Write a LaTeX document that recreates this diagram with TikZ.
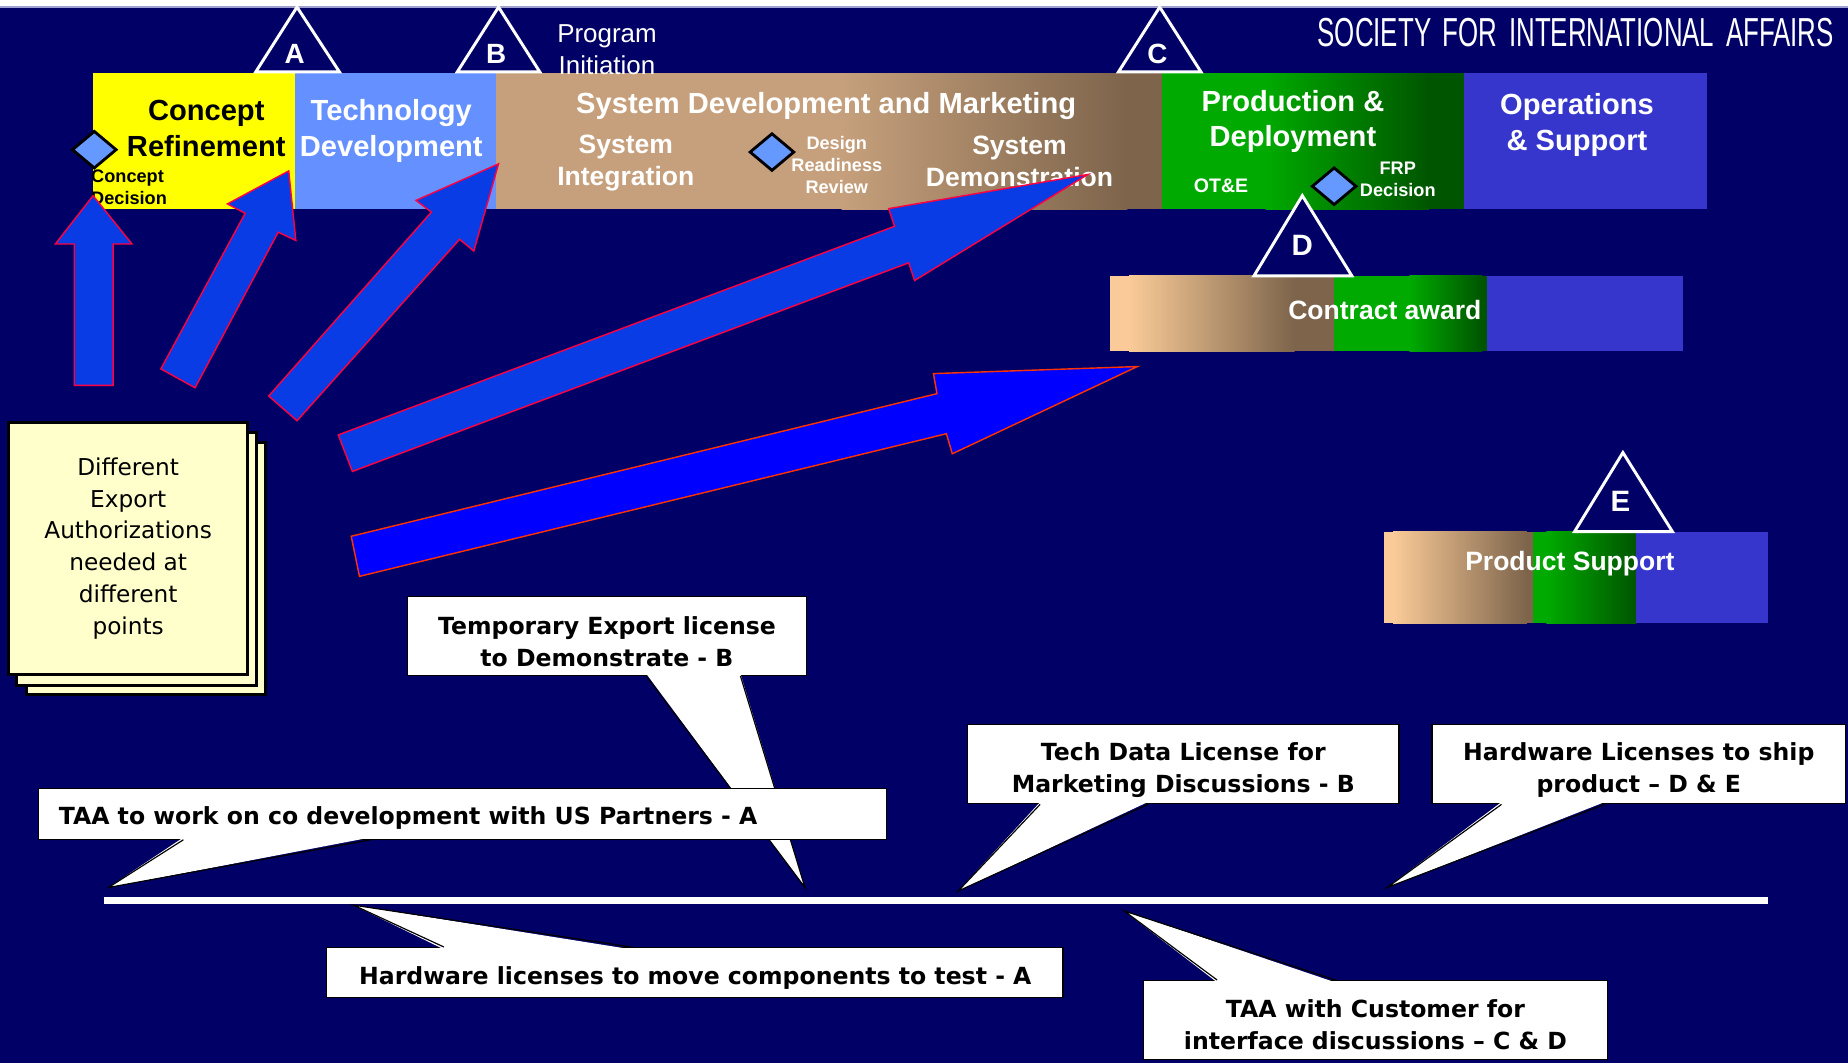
\documentclass[tikz,border=0pt]{standalone}
\usepackage{fontspec}
\usepackage{graphicx}
\setmainfont{Liberation Sans}
\newfontfamily\notefont{DejaVu Sans}
\usetikzlibrary{calc,shapes.geometric}

\newcommand{\setfs}[2]{\fontsize{#1}{#2}\selectfont}

\definecolor{navy}{RGB}{0,0,102}
\definecolor{topline}{RGB}{160,160,208}
\definecolor{conceptyellow}{RGB}{255,255,0}
\definecolor{techblue}{RGB}{100,145,255}
\definecolor{phasetan}{RGB}{198,160,124}
\definecolor{phasebrown}{RGB}{125,100,75}
\definecolor{peach}{RGB}{250,203,152}
\definecolor{brightgreen}{RGB}{0,170,0}
\definecolor{darkgreen}{RGB}{0,85,0}
\definecolor{opsblue}{RGB}{54,54,204}
\definecolor{arrowblue}{RGB}{10,60,230}
\definecolor{arrowred}{RGB}{255,0,64}
\definecolor{pureblue}{RGB}{0,0,255}
\definecolor{orangered}{RGB}{255,51,0}
\definecolor{notefill}{RGB}{255,255,204}
\definecolor{diamondblue}{RGB}{102,153,255}

\begin{document}
\begin{tikzpicture}[x=0.5pt,y=-0.5pt,
  phasetext/.style={text=white, font=\bfseries\setfs{12.35pt}{15pt}, align=center, inner sep=0pt},
  subtext/.style={text=white, font=\bfseries\setfs{11.25pt}{13.5pt}, align=center, inner sep=0pt},
  smalltext/.style={text=white, font=\bfseries\setfs{7.7pt}{9.3pt}, align=center, inner sep=0pt},
  programtext/.style={text=white, font=\setfs{11pt}{13.5pt}, align=center, inner sep=0pt},
  milestone/.style={draw=white, line width=1.25pt, fill=navy, line join=miter},
  milestonelabel/.style={text=white, font=\bfseries\setfs{11.8pt}{14pt}, inner sep=0pt},
  decision/.style={diamond, draw=black, line width=1.2pt, fill=diamondblue,
    minimum width=19pt, minimum height=16pt, inner sep=0pt},
  bigarrow/.style={fill=arrowblue, draw=arrowred, line width=0.6pt, line join=miter},
  sheet/.style={draw=black, line width=1.25pt, fill=notefill, minimum width=101.5pt,
    minimum height=107pt, inner sep=0pt, anchor=north west},
  calloutbox/.style={draw=black, line width=0.5pt, fill=white, inner sep=0pt},
  callouttext/.style={inner sep=0pt, font=\notefont\bfseries\setfs{10pt}{13.5pt}, align=center},
  tail/.style={fill=white},
  tailedge/.style={draw=black, line width=0.5pt, line join=miter},
  timeline/.style={draw=white, line width=3pt},
]
\useasboundingbox (0,0) rectangle (1568,902);

% background and top band
\fill[navy] (0,0) rectangle (1568,902);
\fill[white] (0,0) rectangle (1568,5.5);
\fill[topline] (0,5.5) rectangle (1568,6.8);

% main phase bar
\fill[conceptyellow] (79,62) rectangle (250.5,177.5);
\fill[techblue] (250,62) rectangle (421.5,177.5);
\fill[phasetan] (421,62) rectangle (714.5,177.5);
\shade[left color=phasetan, right color=phasebrown] (714,62) rectangle (956.5,177.5);
\fill[phasebrown] (956,62) rectangle (986.5,177.5);
\fill[brightgreen] (986,62) rectangle (1074.5,177.5);
\shade[left color=brightgreen, right color=darkgreen] (1074,62) rectangle (1212.5,177.5);
\fill[darkgreen] (1212,62) rectangle (1242.5,177.5);
\fill[opsblue] (1242,62) rectangle (1448,177.5);

% contract award bar
\fill[peach] (942,234) rectangle (958.5,298);
\shade[left color=peach, right color=phasebrown] (958,234) rectangle (1098.5,298);
\fill[phasebrown] (1098,234) rectangle (1132.5,298);
\fill[brightgreen] (1132,234) rectangle (1196.5,298);
\shade[left color=brightgreen, right color=darkgreen] (1196,234) rectangle (1257.5,298);
\fill[darkgreen] (1257,234) rectangle (1262.5,298);
\fill[opsblue] (1262,234) rectangle (1428,298);

% product support bar
\fill[peach] (1174,451) rectangle (1182.5,529);
\shade[left color=peach, right color=phasebrown] (1182,451) rectangle (1295.5,529);
\fill[phasebrown] (1295,451) rectangle (1301.5,529);
\fill[brightgreen] (1301,451) rectangle (1312.5,529);
\shade[left color=brightgreen, right color=darkgreen] (1312,451) rectangle (1388.5,529);
\fill[opsblue] (1388,451) rectangle (1500,529);

% milestones
\draw[milestone] (217,61) -- (252,6) -- (288,61) -- cycle;
\node[milestonelabel] (msA) at (250,46) {A};
\draw[milestone] (388,61) -- (423,6) -- (458,61) -- cycle;
\node[milestonelabel] (msB) at (421,46) {B};
\draw[milestone] (949,61) -- (984,6) -- (1019,61) -- cycle;
\node[milestonelabel] (msC) at (982,46) {C};
\draw[milestone] (1064,234) -- (1105,166) -- (1147,234) -- cycle;
\node[milestonelabel, font=\bfseries\setfs{12.5pt}{14pt}] (msD) at (1105,208) {D};
\draw[milestone] (1336,451) -- (1377,384) -- (1419,451) -- cycle;
\node[milestonelabel, font=\bfseries\setfs{12.5pt}{14pt}] (msE) at (1375,425) {E};

% phase labels
\node[phasetext, text=black] (tConcept) at (175,109) {Concept\\Refinement};
\node[phasetext] (tTech) at (332,111) {Technology\\Development};
\node[phasetext] (tSDM) at (701,90) {System Development and Marketing};
\node[subtext] (tSI) at (531,138) {System\\Integration};
\node[smalltext] (tDRR) at (710,140) {Design\\Readiness\\Review};
\node[subtext] (tSD) at (865,137) {System\\Demonstration};
\node[phasetext] (tPD) at (1097,103) {Production \&\\Deployment};
\node[smalltext, font=\bfseries\setfs{8.3pt}{10pt}] (tOTE) at (1036,158) {OT\&E};
\node[smalltext] (tFRP) at (1186,152) {FRP\\Decision};
\node[phasetext] (tOps) at (1338,106) {Operations\\\& Support};
\node[smalltext, text=black, anchor=west, align=left] (tCD) at (77,159) {Concept\\Decision};
\node[programtext] (tPI) at (515,42) {Program\\Initiation};
\node[subtext] (tCA) at (1175,263) {Contract award};
\node[subtext] (tPS) at (1332,478) {Product Support};

% decision points
\node[decision] (dCD) at (80,127) {};
\node[decision] (dDRR) at (655,129) {};
\node[decision] (dFRP) at (1132,158) {};

% organisation banner
\node[text=white, inner sep=0pt] (society) at (1337,28)
  {\resizebox{219pt}{12pt}{SOCIETY\hspace{0.45em}FOR\hspace{0.45em}INTERNATIONAL\hspace{0.45em}AFFAIRS}};

% stacked note sheets
\node[sheet] (sheet3) at (21,374) {};
\node[sheet] (sheet2) at (13,366) {};
\node[sheet, align=center, font=\notefont\setfs{9.85pt}{13.5pt}] (note) at (6,357)
  {Different\\Export\\Authorizations\\needed at\\different\\points};

% block arrows from the notes to the phases
\draw[bigarrow] (63,327) -- (96,327) -- (96,207) -- (112,207) -- (79,166) -- (47,207) -- (63,207) -- cycle;
\draw[bigarrow] (136.5,313) -- (208,181) -- (193,173) -- (245,145) -- (251,204) -- (236,197) -- (165.5,329) -- cycle;
\draw[bigarrow] (228,336) -- (366,180) -- (353,170) -- (423,139) -- (402,213) -- (390,203) -- (252,357) -- cycle;
\draw[bigarrow] (287,369) -- (759,192) -- (754,177) -- (923,148) -- (776,238) -- (771,223) -- (299,400) -- cycle;
\draw[bigarrow, fill=pureblue, draw=orangered] (298,455) -- (795,334) -- (792,317) -- (965,311) -- (808,385) -- (803,368) -- (305,489) -- cycle;

% timeline
\coordinate (tlL) at (88,764);
\coordinate (tlR) at (1500,764);
\draw[timeline] (tlL) -- (tlR);

% callout tips on the timeline
\coordinate (tip1) at (683,753);
\coordinate (tip2) at (92,753);
\coordinate (tip3) at (300,768);
\coordinate (tip4) at (813,756);
\coordinate (tip5) at (1177,753);
\coordinate (tip6) at (954,773);

% callout: temporary export license
\node[calloutbox, minimum width=169pt, minimum height=33.5pt] (c1) at (515,539.5) {};
\path[tail] ($(c1.south west)!0.598!(c1.south east)+(0,-2)$) -- (tip1)
  -- ($(c1.south west)!0.834!(c1.south east)+(0,-2)$) -- cycle;
\draw[tailedge] ($(c1.south west)!0.598!(c1.south east)$) -- (tip1)
  -- ($(c1.south west)!0.834!(c1.south east)$);
\node[callouttext] (c1text) at ($(c1.center)+(0,5)$) {Temporary Export license\\to Demonstrate - B};

% callout: TAA with US partners
\node[calloutbox, minimum width=359.5pt, minimum height=21.5pt] (c2) at (392.5,690.5) {};
\path[tail] ($(c2.south west)!0.171!(c2.south east)+(0,-2)$) -- (tip2)
  -- ($(c2.south west)!0.392!(c2.south east)+(0,-2)$) -- cycle;
\draw[tailedge] ($(c2.south west)!0.171!(c2.south east)$) -- (tip2)
  -- ($(c2.south west)!0.392!(c2.south east)$);
\node[callouttext, anchor=west] (c2text) at ($(c2.west)+(17,3.5)$)
  {TAA to work on co development with US Partners - A};

% callout: hardware licenses for test
\node[calloutbox, minimum width=312.5pt, minimum height=21pt] (c3) at (589.5,825) {};
\path[tail] ($(c3.north west)!0.16!(c3.north east)+(0,2)$) -- (tip3)
  -- ($(c3.north west)!0.414!(c3.north east)+(0,2)$) -- cycle;
\draw[tailedge] ($(c3.north west)!0.16!(c3.north east)$) -- (tip3)
  -- ($(c3.north west)!0.414!(c3.north east)$);
\node[callouttext] (c3text) at ($(c3.center)+(0.5,5)$) {Hardware licenses to move components to test - A};

% callout: tech data license
\node[calloutbox, minimum width=183pt, minimum height=33.5pt] (c4) at (1004,648.5) {};
\path[tail] ($(c4.south west)!0.169!(c4.south east)+(0,-2)$) -- (tip4)
  -- ($(c4.south west)!0.418!(c4.south east)+(0,-2)$) -- cycle;
\draw[tailedge] ($(c4.south west)!0.169!(c4.south east)$) -- (tip4)
  -- ($(c4.south west)!0.418!(c4.south east)$);
\node[callouttext] (c4text) at ($(c4.center)+(0,5)$) {Tech Data License for\\Marketing Discussions - B};

% callout: hardware licenses to ship
\node[calloutbox, minimum width=175.5pt, minimum height=33.5pt] (c5) at (1390.5,648.5) {};
\path[tail] ($(c5.south west)!0.169!(c5.south east)+(0,-2)$) -- (tip5)
  -- ($(c5.south west)!0.418!(c5.south east)+(0,-2)$) -- cycle;
\draw[tailedge] ($(c5.south west)!0.169!(c5.south east)$) -- (tip5)
  -- ($(c5.south west)!0.418!(c5.south east)$);
\node[callouttext] (c5text) at ($(c5.center)+(0,5)$) {Hardware Licenses to ship\\product – D \& E};

% callout: TAA with customer
\node[calloutbox, minimum width=197pt, minimum height=33.5pt] (c6) at (1167,865.5) {};
\path[tail] ($(c6.north west)!0.16!(c6.north east)+(0,2)$) -- (tip6)
  -- ($(c6.north west)!0.414!(c6.north east)+(0,2)$) -- cycle;
\draw[tailedge] ($(c6.north west)!0.16!(c6.north east)$) -- (tip6)
  -- ($(c6.north west)!0.414!(c6.north east)$);
\node[callouttext] (c6text) at ($(c6.center)+(0,4)$) {TAA with Customer for\\interface discussions – C \& D};

\end{tikzpicture}
\end{document}
